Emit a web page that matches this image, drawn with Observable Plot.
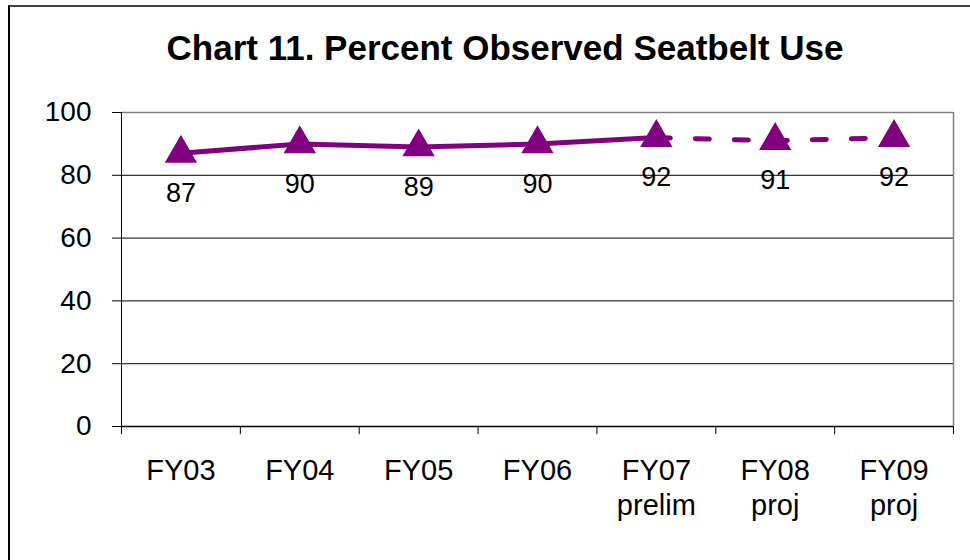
<!DOCTYPE html>
<html>
<head>
<meta charset="utf-8">
<script src="https://cdn.jsdelivr.net/npm/d3@7"></script>
<script src="https://cdn.jsdelivr.net/npm/@observablehq/plot@0.6"></script>
<style>
  html, body { margin: 0; padding: 0; background: #fff; width: 970px; height: 560px; overflow: hidden; }
  #frame { position: absolute; left: 8px; top: 5px; width: 2000px; height: 2000px;
           border-left: 2px solid #000; border-top: 2px solid #404040; box-sizing: border-box; }
  #head { position: relative; height: 95px; }
  #title { position: absolute; left: 40px; width: 930px; top: 30px; text-align: center;
           font: bold 35px "Liberation Sans", Arial, sans-serif; line-height: 35px; color: #000; }
  #chart { position: relative; }
</style>
</head>
<body>
<div id="frame"></div>
<div id="head"><div id="title">Chart 11. Percent Observed Seatbelt Use</div></div>
<div id="chart"></div>
<script>
const categories = ["FY03", "FY04", "FY05", "FY06", "FY07\nprelim", "FY08\nproj", "FY09\nproj"];
const values = [87, 90, 89, 90, 92, 91, 92];
const kinds = ["actual", "actual", "actual", "actual", "prelim", "proj", "proj"];
const yTicks = [0, 20, 40, 60, 80, 100];

const data = categories.map((c, i) => ({i, cat: c, v: values[i], kind: kinds[i]}));
const solid = data.filter(d => d.kind !== "proj");
const dashed = data.filter(d => d.kind !== "actual");
const boundaries = d3.range(-0.5, categories.length, 1);
const purple = "#800080";

const chart = Plot.plot({
  width: 970,
  height: 465,
  marginTop: 17,
  marginLeft: 121,
  marginRight: 17,
  marginBottom: 134,
  style: {fontFamily: "'Liberation Sans', Arial, sans-serif", fontSize: "28px", color: "#000", background: "transparent"},
  x: {domain: [-0.5, categories.length - 0.5], axis: null},
  y: {domain: [0, 100], ticks: yTicks, tickSize: 9, tickPadding: 21, label: null},
  marks: [
    Plot.ruleY(yTicks.filter(t => t > 0 && t < 100), {stroke: "#000", strokeWidth: 1}),
    Plot.ruleY([100], {stroke: "#808080", strokeWidth: 1.5}),
    Plot.ruleX([categories.length - 0.5], {y1: 0, y2: 100, stroke: "#808080", strokeWidth: 1.5}),
    Plot.ruleX(boundaries, {y1: 0, y2: -2.6, stroke: "#000", strokeWidth: 1}),
    Plot.ruleX([-0.5], {y1: 0, y2: 100, stroke: "#000", strokeWidth: 1}),
    Plot.ruleY([0], {stroke: "#000", strokeWidth: 1.5}),
    Plot.line(solid, {x: "i", y: "v", stroke: purple, strokeWidth: 5}),
    Plot.line(dashed, {x: "i", y: "v", stroke: purple, strokeWidth: 5, strokeDasharray: "14,25"}),
    Plot.dot(data, {x: "i", y: "v", symbol: "triangle", r: 12, fill: purple, stroke: "none"}),
    Plot.text(data, {x: "i", y: "v", text: d => String(d.v), dy: 40, fill: "#000", fontSize: 27}),
    Plot.text(data, {x: "i", y: d => 0, text: "cat", lineAnchor: "top", dy: 29, lineHeight: 1.2, fill: "#000", fontSize: 29})
  ]
});
document.getElementById("chart").appendChild(chart);
</script>
</body>
</html>
